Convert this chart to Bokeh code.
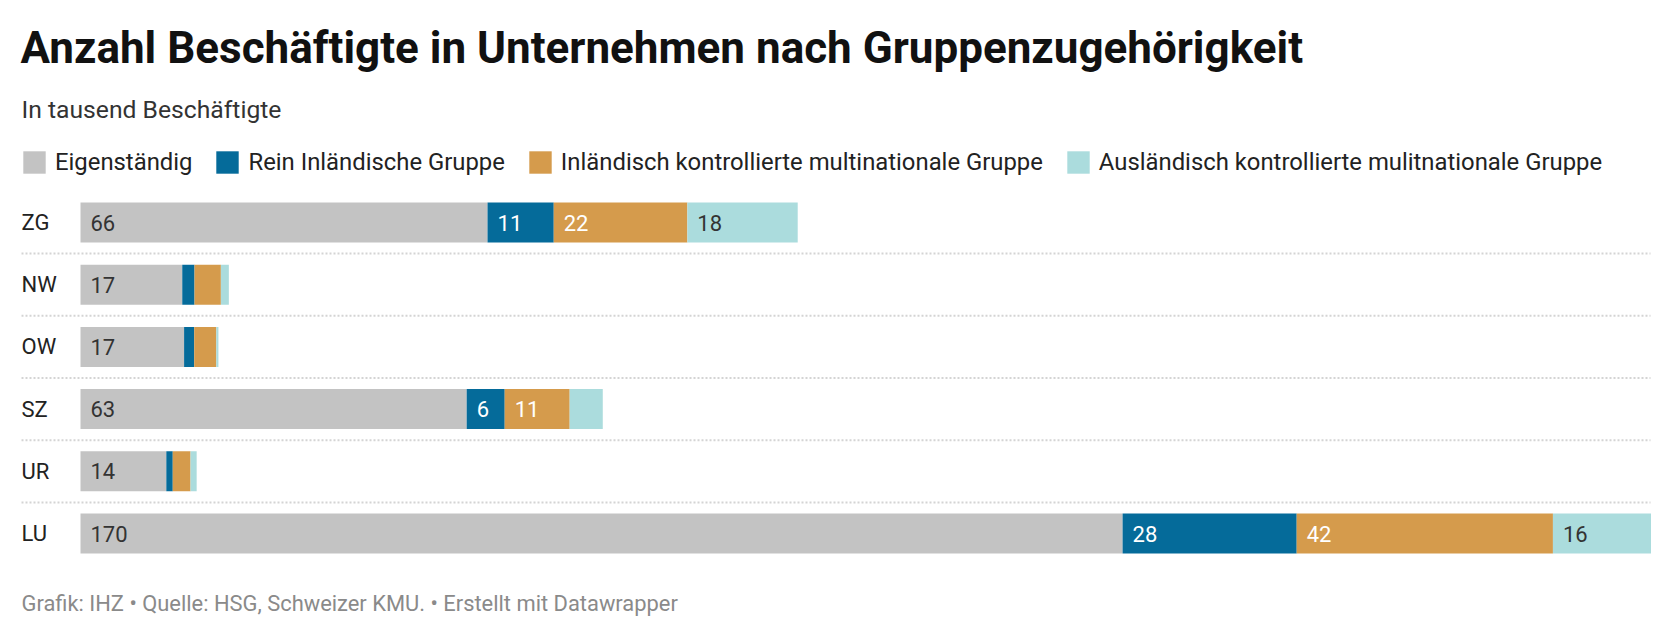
from bokeh.plotting import figure
from bokeh.models import Range1d, ColumnDataSource, Legend, LegendItem
from bokeh.core.properties import value
from bokeh.embed import file_html
from bokeh.resources import INLINE

# ---- data (thousand employees) ----
cantons = ["ZG", "NW", "OW", "SZ", "UR", "LU"]
eigenstaendig = [66.4, 16.6, 16.9, 63.0, 14.0, 170.0]
rein_inland = [10.8, 2.0, 1.65, 6.2, 1.05, 28.4]
inland_multi = [21.8, 4.3, 3.6, 10.6, 2.9, 41.8]
ausland_multi = [18.0, 1.3, 0.35, 5.4, 1.0, 16.0]
series_names = ["Eigenständig", "Rein Inländische Gruppe",
                "Inländisch kontrollierte multinationale Gruppe",
                "Ausländisch kontrollierte mulitnationale Gruppe"]
series_values = [eigenstaendig, rein_inland, inland_multi, ausland_multi]
colors = ["#c3c3c3", "#056b9a", "#d59b4c", "#abdcdd"]
label_colors = ["#333333", "#ffffff", "#ffffff", "#333333"]

title = "Anzahl Beschäftigte in Unternehmen nach Gruppenzugehörigkeit"
subtitle = "In tausend Beschäftigte"
footer = "Grafik: IHZ • Quelle: HSG, Schweizer KMU. • Erstellt mit Datawrapper"

# ---- layout ----
W, H = 1672, 640
PX_PER_UNIT = 6.13
BAR_LEFT = 80
x0 = -BAR_LEFT / PX_PER_UNIT
x1 = (W - BAR_LEFT) / PX_PER_UNIT


def px(xpix):
    return (xpix - BAR_LEFT) / PX_PER_UNIT


ROW0 = 222.0
PITCH = 62.2
BAR_H = 40

p = figure(width=W, height=H, output_backend="svg", toolbar_location=None,
           x_range=Range1d(x0, x1), y_range=Range1d(H, 0),
           min_border=0, outline_line_color=None)
p.axis.visible = False
p.grid.visible = False
p.background_fill_color = "white"
p.border_fill_color = "white"

ys = [ROW0 + i * PITCH for i in range(len(cantons))]

# separators between rows
for i in range(len(cantons) - 1):
    yy = ys[i] + PITCH / 2
    p.line([px(21), px(1650)], [yy, yy], line_color="#d4d4d4",
           line_width=2, line_dash="2 2")

# stacked bars
left = [0.0] * len(cantons)
renderers = []
for s, vals in enumerate(series_values):
    right = [l + v for l, v in zip(left, vals)]
    src = ColumnDataSource(dict(y=ys, left=left, right=right))
    r = p.hbar(y="y", left="left", right="right", height=BAR_H, source=src,
               fill_color=colors[s], line_color=None)
    renderers.append(r)
    # value labels where they fit
    lx, ly, lt = [], [], []
    for l, v, yy in zip(left, vals, ys):
        if v >= 6:
            lx.append(l)
            ly.append(yy)
            lt.append(str(int(round(v))))
    p.text(x=lx, y=ly, text=lt, x_offset=10, text_baseline="middle",
           text_align="left", text_font=value("Roboto"),
           text_font_size="22px", text_color=label_colors[s])
    left = right

# category labels
p.text(x=[px(21)] * len(cantons), y=ys, text=cantons, text_baseline="middle",
       text_align="left", text_font=value("Roboto"), text_font_size="22px",
       text_color="#222222")

# title, subtitle, footer
p.text(x=[px(20)], y=[47], text=[title], text_baseline="alphabetic",
       text_font=value("Roboto"), text_font_style="bold",
       text_font_size="44px", text_color="#111111")
p.text(x=[px(21)], y=[109], text=[subtitle], text_baseline="alphabetic",
       text_font=value("Roboto"), text_font_size="24.7px",
       text_color="#333333")
p.text(x=[px(21)], y=[603], text=[footer], text_baseline="alphabetic",
       text_font=value("Roboto"), text_font_size="21.9px",
       text_color="#8a8a8a")

legend = Legend(items=[LegendItem(label=n, renderers=[r])
                       for n, r in zip(series_names, renderers)],
                orientation="horizontal", location=(20, H - 176),
                glyph_width=28, glyph_height=28, label_standoff=7, spacing=21,
                padding=0, margin=0, border_line_color=None,
                background_fill_alpha=0, label_text_font="Roboto",
                label_text_font_size="23.85px", label_text_color="#222222",
                label_height=28)
p.add_layout(legend)

open("out.html", "w").write(file_html(p, INLINE))
